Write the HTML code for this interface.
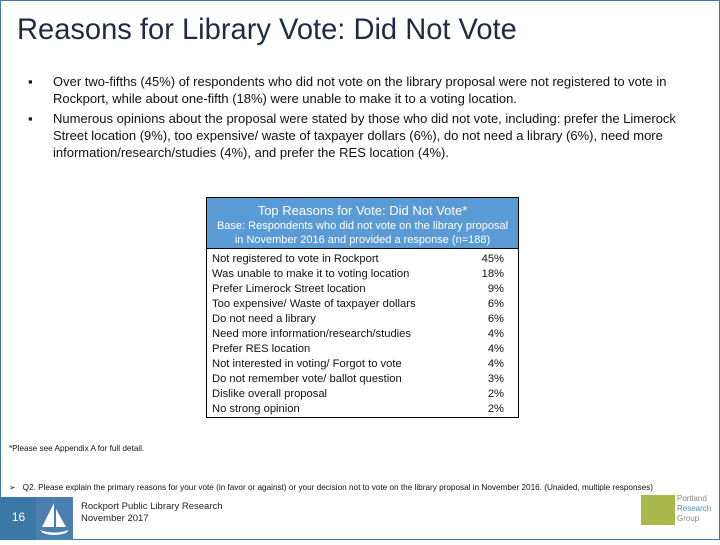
<!DOCTYPE html>
<html><head><meta charset="utf-8"><style>
body{margin:0;width:720px;height:540px;overflow:hidden;background:#fff;font-family:"Liberation Sans",sans-serif;}
#slide{position:absolute;left:0;top:0;width:718px;height:538px;border:1px solid #3b78a8;}
.abs{position:absolute;}
h1{position:absolute;left:16px;top:12px;margin:0;font-weight:normal;font-size:30px;color:#1f2a44;transform-origin:0 0;transform:scaleX(0.97);white-space:nowrap;}
.bul{position:absolute;left:52px;width:640px;font-size:13px;line-height:17px;color:#111;}
.dot{position:absolute;left:-25px;top:0;}
#tbl{position:absolute;left:205px;top:196px;width:311px;height:219px;border:1px solid #000;}
#hdr{height:50px;background:#5b9bd5;border-bottom:1px solid #000;text-align:center;color:#fff;}
.row{position:absolute;left:5px;width:292px;font-size:11.2px;color:#111;height:15px;line-height:15px;}
.row span{position:absolute;right:0;}
</style></head><body>
<div id="slide">
<h1>Reasons for Library Vote: Did Not Vote</h1>
<div class="bul" style="top:72px"><span class="dot">▪</span>Over two-fifths (45%) of respondents who did not vote on the library proposal were not registered to vote in Rockport, while about one-fifth (18%) were unable to make it to a voting location.</div>
<div class="bul" style="top:109px;width:630px"><span class="dot">▪</span>Numerous opinions about the proposal were stated by those who did not vote, including: prefer the Limerock Street location (9%), too expensive/ waste of taxpayer dollars (6%), do not need a library (6%), need more information/research/studies (4%), and prefer the RES location (4%).</div>
<div id="tbl">
<div id="hdr">
<div style="font-size:13px;padding-top:5px;line-height:15px">Top Reasons for Vote: Did Not Vote*</div>
<div style="font-size:11px;line-height:14px;padding-top:1px">Base: Respondents who did not vote on the library proposal<br>in November 2016 and provided a response (n=188)</div>
</div>
<div id="rows"></div>
</div>
<div class="abs" style="left:8px;top:443px;font-size:8.2px;color:#111;white-space:nowrap">*Please see Appendix A for full detail.</div>
<div class="abs" style="left:8px;top:481px;font-size:8.2px;color:#111;white-space:nowrap">➢ &nbsp;&nbsp;Q2. Please explain the primary reasons for your vote (in favor or against) or your decision not to vote on the library proposal in November 2016. (Unaided, multiple responses)</div>
<div class="abs" style="left:0;top:496px;width:35px;height:43px;background:#3b78a8;color:#fff;font-size:12px;text-align:center;line-height:40px">16</div>
<div class="abs" style="left:35px;top:496px;width:37px;height:43px;background:#4a7fb0">
<svg width="37" height="43"><polygon points="18,6 18,30 6,30" fill="#fff"/><polygon points="20,12 20,30 30,30" fill="#fff"/><path d="M4,33 Q18,38 33,33 L30,36 Q18,40 7,36Z" fill="#fff"/></svg></div>
<div class="abs" style="left:80px;top:500px;font-size:9.5px;line-height:12px;color:#222">Rockport Public Library Research<br>November 2017</div>
<div class="abs" style="left:640px;top:494px;width:34px;height:30px;background:#a8b84a"></div>
<div class="abs" style="left:676px;top:493px;font-size:8px;line-height:10px;color:#888">Portland<br><span style="color:#4a90b0">Research</span><br>Group</div>
</div>
<script>
const reasons=["Not registered to vote in Rockport","Was unable to make it to voting location","Prefer Limerock Street location","Too expensive/ Waste of taxpayer dollars","Do not need a library","Need more information/research/studies","Prefer RES location","Not interested in voting/ Forgot to vote","Do not remember vote/ ballot question","Dislike overall proposal","No strong opinion"];
const values=[45,18,9,6,6,4,4,4,3,2,2];
const rows=document.getElementById('rows');
reasons.forEach((r,i)=>{
const d=document.createElement('div');
d.className='row';
d.style.top=(54+i*15)+'px';


d.textContent=r;
const s=document.createElement('span');


s.textContent=values[i]+'%';
d.appendChild(s);
rows.appendChild(d);
});
</script>
</body></html>
